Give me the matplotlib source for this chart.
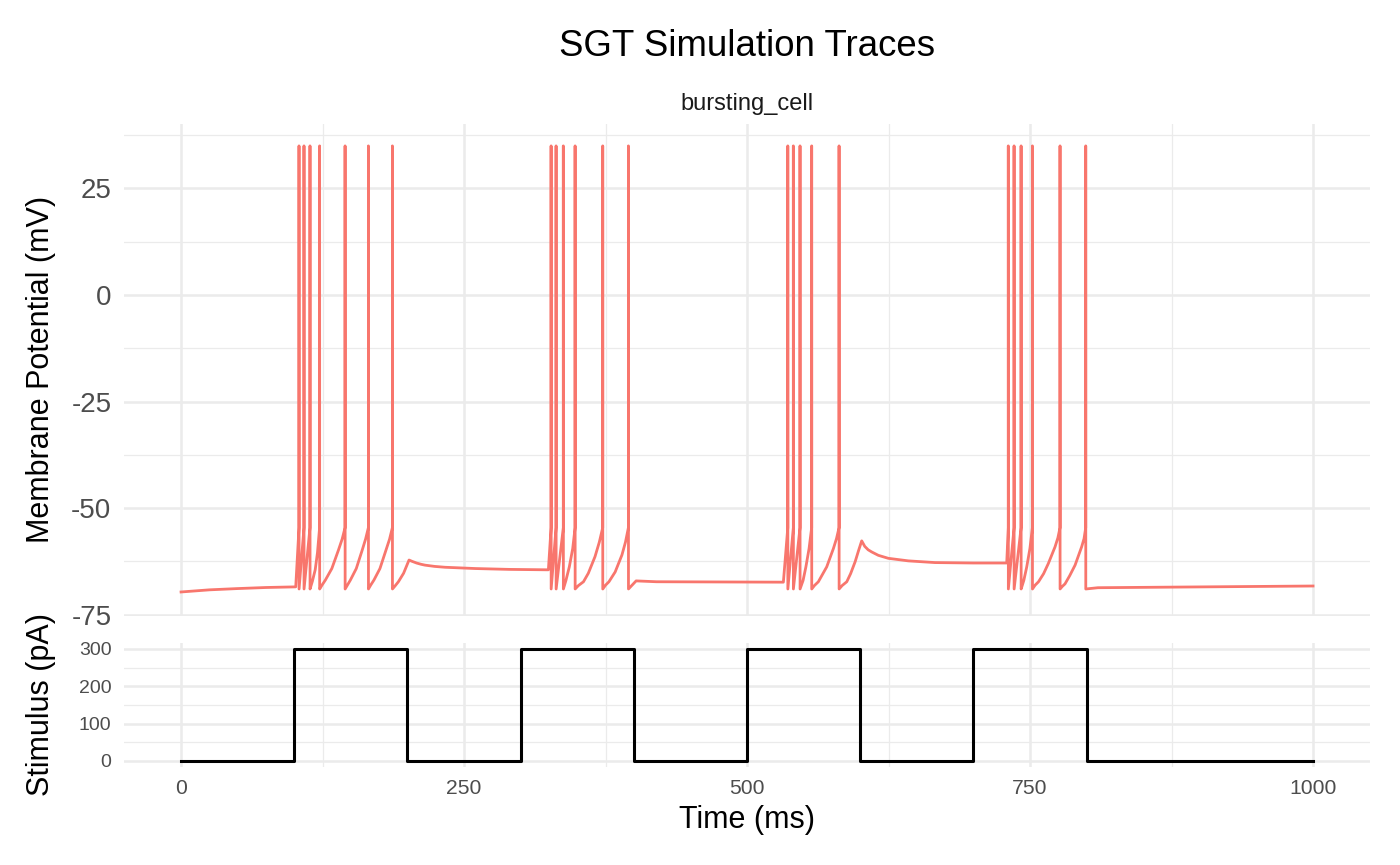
import matplotlib.pyplot as plt

plt.rcParams['font.family'] = ['Liberation Sans', 'DejaVu Sans']

# subthreshold membrane potential (ms, mV)
sub_t = [0, 25, 50, 75, 101.3,
         116.0, 118.5, 120.5,
         124.5, 127.5, 133.2, 139.0, 142.3,
         146.9, 149.6, 154.8, 160.0, 163.0,
         167.5, 170.4, 175.7, 181.0, 184.2,
         189.0, 192.0, 196.6, 201.4, 204.0, 208.0, 212.0, 215.5, 224.0, 233.2,
         260, 290, 324.5,
         340.0, 343.0, 346.0,
         351.0, 355.5, 359.8, 365.7, 369.5,
         375.0, 378.0, 383.5, 389.5, 392.6,
         402.0, 420, 532.1,
         549.5, 552.0, 554.8,
         559.5, 563.0, 570.4, 576.3, 579.0,
         584.0, 588.1, 591.5, 595.5, 598.5, 601.3, 604.0, 607.0, 610.1, 616.0,
         624.8, 642.5, 666.0, 700, 729.4,
         744.5, 747.1, 749.9,
         754.5, 757.5, 762.0, 766.2, 772.1, 774.6,
         778.5, 780.9, 785.0, 789.8, 795.6, 797.7,
         810, 900, 1000]
sub_v = [-69.7, -69.2, -68.9, -68.65, -68.5,
         -67.2, -64.5, -60.5,
         -68.1, -66.9, -64.2, -59.9, -57.3,
         -68.1, -66.9, -64.2, -59.9, -57.3,
         -68.1, -66.9, -64.2, -59.9, -57.3,
         -68.3, -67.3, -65.3, -62.2, -62.5, -62.9, -63.2, -63.4, -63.7, -63.9,
         -64.2, -64.4, -64.5,
         -67.0, -63.8, -59.5,
         -68.2, -67.3, -65.3, -61.4, -58.0,
         -68.1, -67.3, -65.0, -61.0, -58.0,
         -67.1, -67.3, -67.4,
         -67.0, -63.8, -59.5,
         -68.2, -67.3, -63.8, -59.5, -57.2,
         -68.2, -67.3, -65.4, -62.6, -60.0, -57.7, -59.0, -59.8, -60.3, -61.1,
         -61.8, -62.4, -62.8, -62.9, -62.9,
         -67.0, -63.8, -59.5,
         -68.1, -67.3, -65.4, -63.0, -59.1, -57.0,
         -68.4, -67.8, -65.9, -63.4, -59.1, -57.2,
         -68.7, -68.5, -68.3]

# spike times (ms)
spike_t = [104.2, 108.6, 113.9, 122.4, 144.9, 165.5, 186.7,
           326.9, 331.3, 337.7, 348.1, 372.5, 395.2,
           536.0, 540.9, 546.8, 557.1, 581.3,
           730.8, 735.9, 742.1, 752.1, 776.5, 799.2]
v_thresh = -54.6
v_peak = 35.0
v_reset = -69.0

# stimulus current steps (ms, pA)
stim_t = [0, 100, 200, 300, 400, 500, 600, 700, 800, 1000]
stim_i = [0, 300, 0, 300, 0, 300, 0, 300, 0, 0]

# merge spikes into the trace
pts = [(t, 1, v) for t, v in zip(sub_t, sub_v)]
for ts in spike_t:
    pts += [(ts, 0, v_thresh), (ts, 0.5, v_peak), (ts + 0.05, 0, v_reset)]
pts.sort(key=lambda p: (p[0], p[1]))
vm_t = [p[0] for p in pts]
vm_v = [p[2] for p in pts]

grid_col = '#EBEBEB'
tick_col = '#4D4D4D'

fig = plt.figure(figsize=(7, 4.325), dpi=200)
ax1 = fig.add_axes([0.0889, 0.2883, 0.8894, 0.5689])
ax2 = fig.add_axes([0.0889, 0.1138, 0.8894, 0.1424])

for ax in (ax1, ax2):
    for s in ax.spines.values():
        s.set_visible(False)
    ax.set_axisbelow(True)
    ax.set_xlim(-50, 1050)
    ax.set_xticks([0, 250, 500, 750, 1000])
    ax.set_xticks([125, 375, 625, 875], minor=True)
    ax.grid(True, which='major', color=grid_col, linewidth=0.9)
    ax.grid(True, which='minor', color=grid_col, linewidth=0.45)
    ax.tick_params(which='both', length=0, colors=tick_col)

ax1.plot(vm_t, vm_v, color='#F8766D', linewidth=1.0, solid_joinstyle='round')
ax1.set_ylim(-75.25, 40.25)
ax1.set_yticks([-75, -50, -25, 0, 25])
ax1.set_yticks([-62.5, -37.5, -12.5, 12.5, 37.5], minor=True)
ax1.set_yticklabels(['-75', '-50', '-25', '0', '25'])
ax1.tick_params(axis='y', labelsize=10, pad=4.7)
ax1.tick_params(axis='x', labelbottom=False)

ax2.step(stim_t, stim_i, where='post', color='black', linewidth=1.1)
ax2.set_ylim(-15, 315)
ax2.set_yticks([0, 100, 200, 300])
ax2.set_yticks([50, 150, 250], minor=True)
ax2.tick_params(axis='y', labelsize=7, pad=4.7)
ax2.tick_params(axis='x', labelsize=7.6, pad=4.6)

fig.text(0.5336, 0.9353, 'SGT Simulation Traces', ha='center', va='baseline',
         fontsize=13.2, color='black')
fig.text(0.5336, 0.8728, 'bursting_cell', ha='center', va='baseline',
         fontsize=8.5, color='#1A1A1A')
fig.text(0.029, 1 - 369.5 / 865, 'Membrane Potential (mV)', rotation=90,
         ha='center', va='center', fontsize=11)
fig.text(0.029, 1 - 705 / 865, 'Stimulus (pA)', rotation=90,
         ha='center', va='center', fontsize=11)
fig.text(0.5336, 1 - 820 / 865, 'Time (ms)', ha='center', va='center',
         fontsize=11)

fig.savefig('out.png', dpi=200)
